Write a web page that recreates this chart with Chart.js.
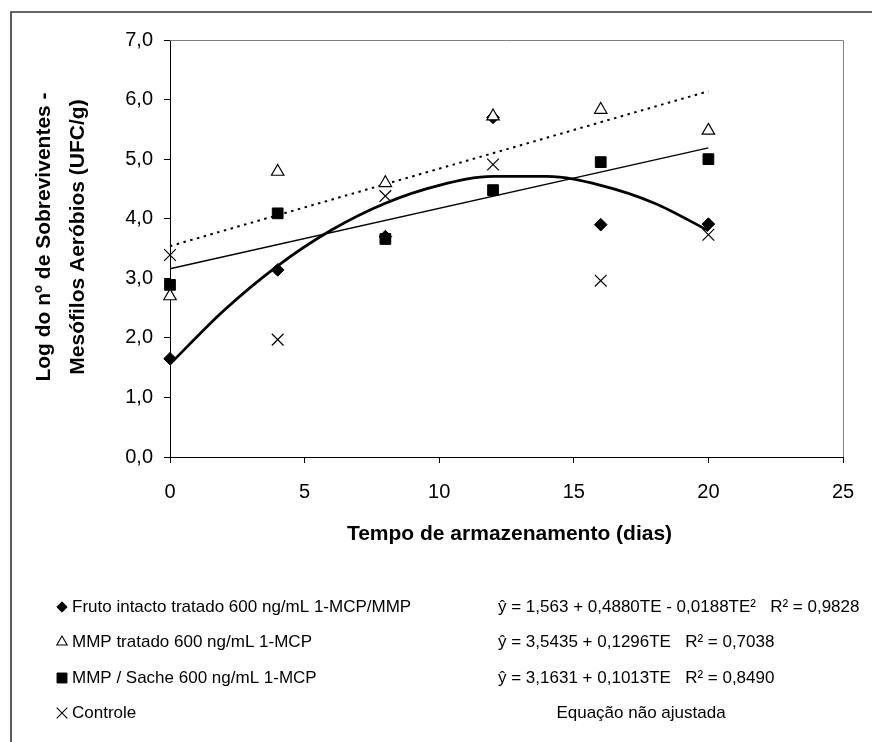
<!DOCTYPE html>
<html><head><meta charset="utf-8">
<script src="https://cdn.jsdelivr.net/npm/chart.js@4"></script>
<style>html,body{margin:0;padding:0;background:#fff}#wrap{width:872px;height:742px;position:relative}</style>
</head><body><div id="wrap"><canvas id="c" width="872" height="742"></canvas></div>
<script>
// ---- data ----
const days = [0, 4, 8, 12, 16, 20];
const frutoIntacto = [1.65, 3.14, 3.70, 5.70, 3.90, 3.91];
const mmpTratado   = [2.70, 4.79, 4.60, 5.72, 5.83, 5.48];
const mmpSache     = [2.89, 4.09, 3.66, 4.48, 4.95, 5.00];
const controle     = [3.39, 1.97, 4.38, 4.91, 2.96, 3.73];

const curveDays = [0, 2, 4, 6, 8, 10, 12, 14, 16, 18, 20];
const curveFruto = [1.56, 2.46, 3.21, 3.81, 4.26, 4.56, 4.71, 4.71, 4.56, 4.26, 3.80];
const lineDays = [0, 20];
const lineTratado = [3.54, 6.14];
const lineSache = [3.16, 5.19];

const seriesLabels = [
  'Fruto intacto tratado 600 ng/mL 1-MCP/MMP',
  'MMP tratado 600 ng/mL 1-MCP',
  'MMP / Sache 600 ng/mL 1-MCP',
  'Controle'
];
const equations = [
  'ŷ = 1,563 + 0,4880TE - 0,0188TE²   R² = 0,9828',
  'ŷ = 3,5435 + 0,1296TE   R² = 0,7038',
  'ŷ = 3,1631 + 0,1013TE   R² = 0,8490',
  'Equação não ajustada'
];
const xTitle = 'Tempo de armazenamento (dias)';
const yTitle1 = ['Log do n', 'o', ' de Sobreviventes -'];
const yTitle2 = 'Mesófilos Aeróbios (UFC/g)';

const FONT = "'Liberation Sans', Arial, sans-serif";
const pts = (xs, ys) => xs.map((x, i) => ({x, y: ys[i]}));

const markerStyles = [
  {pointStyle: 'rectRot', radius: 6.3, fill: '#000', stroke: '#000', bw: 1},
  {pointStyle: 'triangle', radius: 7.2, fill: '#fff', stroke: '#000', bw: 1.2},
  {pointStyle: 'rect', radius: 7.6, fill: '#000', stroke: '#000', bw: 1},
  {pointStyle: 'crossRot', radius: 8.3, fill: '#000', stroke: '#000', bw: 1.2}
];
const legendMarkers = [
  {pointStyle: 'rectRot', radius: 5.2, fill: '#000', stroke: '#000', bw: 1},
  {pointStyle: 'triangle', radius: 6, fill: '#fff', stroke: '#000', bw: 1.1},
  {pointStyle: 'rect', radius: 7, fill: '#000', stroke: '#000', bw: 1},
  {pointStyle: 'crossRot', radius: 7.5, fill: '#000', stroke: '#000', bw: 1.1}
];

function scatterSet(label, ys, st, order) {
  return {
    type: 'scatter', label, data: pts(days, ys), order,
    pointStyle: st.pointStyle, pointRadius: st.radius, pointHoverRadius: st.radius,
    pointBackgroundColor: st.fill, pointBorderColor: st.stroke, pointBorderWidth: st.bw,
    showLine: false, clip: false
  };
}
function lineSet(label, xs, ys, width, dash, order, tension) {
  return {
    type: 'line', label, data: pts(xs, ys), order,
    borderColor: '#000', borderWidth: width, borderDash: dash,
    pointRadius: 0, fill: false, tension: tension, cubicInterpolationMode: tension ? 'monotone' : 'default',
    clip: false
  };
}

const decorPlugin = {
  id: 'decor',
  beforeDraw(chart) {
    const ctx = chart.ctx;
    ctx.save();
    ctx.fillStyle = '#fff';
    ctx.fillRect(0, 0, chart.width, chart.height);
    ctx.restore();
  },
  beforeDatasetsDraw(chart) {
    const {ctx, chartArea: a} = chart;
    ctx.save();
    ctx.strokeStyle = '#808080';
    ctx.lineWidth = 1;
    ctx.beginPath();
    ctx.moveTo(a.left, a.top + 0.5);
    ctx.lineTo(a.right + 0.5, a.top + 0.5);
    ctx.lineTo(a.right + 0.5, a.bottom);
    ctx.stroke();
    ctx.restore();
  },
  afterDraw(chart) {
    const {ctx, chartArea: a} = chart;
    ctx.save();
    // outer frame (left and top edges)
    ctx.strokeStyle = '#333';
    ctx.lineWidth = 1.6;
    ctx.beginPath();
    ctx.moveTo(11, chart.height);
    ctx.lineTo(11, 12);
    ctx.lineTo(chart.width, 12);
    ctx.stroke();

    ctx.fillStyle = '#000';
    // x title
    ctx.font = 'bold 21px ' + FONT;
    ctx.textAlign = 'center';
    ctx.textBaseline = 'middle';
    ctx.fillText(xTitle, (a.left + a.right) / 2 + 3, 534);

    // y title (two rotated lines)
    const cy = 237;
    const big = 'bold 21px ' + FONT, small = 'bold 13px ' + FONT;
    ctx.textAlign = 'left';
    ctx.textBaseline = 'alphabetic';
    ctx.font = big; const w1 = ctx.measureText(yTitle1[0]).width;
    ctx.font = small; const w2 = ctx.measureText(yTitle1[1]).width;
    ctx.font = big; const w3 = ctx.measureText(yTitle1[2]).width;
    const tot = w1 + w2 + w3;
    ctx.save();
    ctx.translate(50, cy);
    ctx.rotate(-Math.PI / 2);
    let u = -tot / 2;
    ctx.font = big; ctx.fillText(yTitle1[0], u, 0); u += w1;
    ctx.font = small; ctx.fillText(yTitle1[1], u, -8); u += w2;
    ctx.font = big; ctx.fillText(yTitle1[2], u, 0);
    ctx.restore();
    ctx.save();
    ctx.translate(84, cy);
    ctx.rotate(-Math.PI / 2);
    ctx.font = big; ctx.textAlign = 'center';
    ctx.fillText(yTitle2, 0, 0);
    ctx.restore();

    // legend + equations
    const rows = [607, 642, 678, 713];
    ctx.font = '17px ' + FONT;
    ctx.textBaseline = 'middle';
    rows.forEach((ry, i) => {
      const m = legendMarkers[i];
      ctx.save();
      ctx.fillStyle = m.fill; ctx.strokeStyle = m.stroke; ctx.lineWidth = m.bw;
      Chart.helpers.drawPoint(ctx, {pointStyle: m.pointStyle, radius: m.radius, rotation: 0, borderWidth: m.bw}, 62, ry);
      ctx.restore();
      ctx.fillStyle = '#000';
      ctx.textAlign = 'left';
      ctx.fillText(seriesLabels[i], 72, ry);
      if (i < 3) {
        ctx.textAlign = 'left';
        ctx.fillText(equations[i], 498, ry);
      } else {
        ctx.textAlign = 'center';
        ctx.fillText(equations[i], 641, ry);
      }
    });
    ctx.restore();
  }
};

new Chart(document.getElementById('c'), {
  type: 'scatter',
  data: {
    datasets: [
      scatterSet(seriesLabels[1], mmpTratado, markerStyles[1], 1),
      scatterSet(seriesLabels[2], mmpSache, markerStyles[2], 2),
      scatterSet(seriesLabels[0], frutoIntacto, markerStyles[0], 3),
      scatterSet(seriesLabels[3], controle, markerStyles[3], 4),
      lineSet('fit fruto', curveDays, curveFruto, 2.8, [], 5, 0.4),
      lineSet('fit tratado', lineDays, lineTratado, 2, [2.5, 4.5], 6, 0),
      lineSet('fit sache', lineDays, lineSache, 1.3, [], 7, 0)
    ]
  },
  options: {
    responsive: false,
    animation: false,
    devicePixelRatio: 1,
    layout: {padding: {top: 40, right: 29, left: 0, bottom: 0}},
    plugins: {legend: {display: false}, tooltip: {enabled: false}, title: {display: false}},
    scales: {
      x: {
        type: 'linear', min: 0, max: 25,
        afterFit: s => { s.height = 285; },
        border: {display: true, color: '#000', width: 1},
        grid: {drawOnChartArea: false, drawTicks: true, tickLength: 6, color: '#000'},
        ticks: {stepSize: 5, color: '#000', font: {family: FONT, size: 20}, padding: 17, maxRotation: 0}
      },
      y: {
        type: 'linear', min: 0, max: 7,
        afterFit: s => { s.width = 170; },
        border: {display: true, color: '#000', width: 1},
        grid: {drawOnChartArea: false, drawTicks: true, tickLength: 6, color: '#000'},
        ticks: {stepSize: 1, color: '#000', font: {family: FONT, size: 20}, padding: 11,
          callback: v => v.toFixed(1).replace('.', ',')}
      }
    }
  },
  plugins: [decorPlugin]
});
</script></body></html>
